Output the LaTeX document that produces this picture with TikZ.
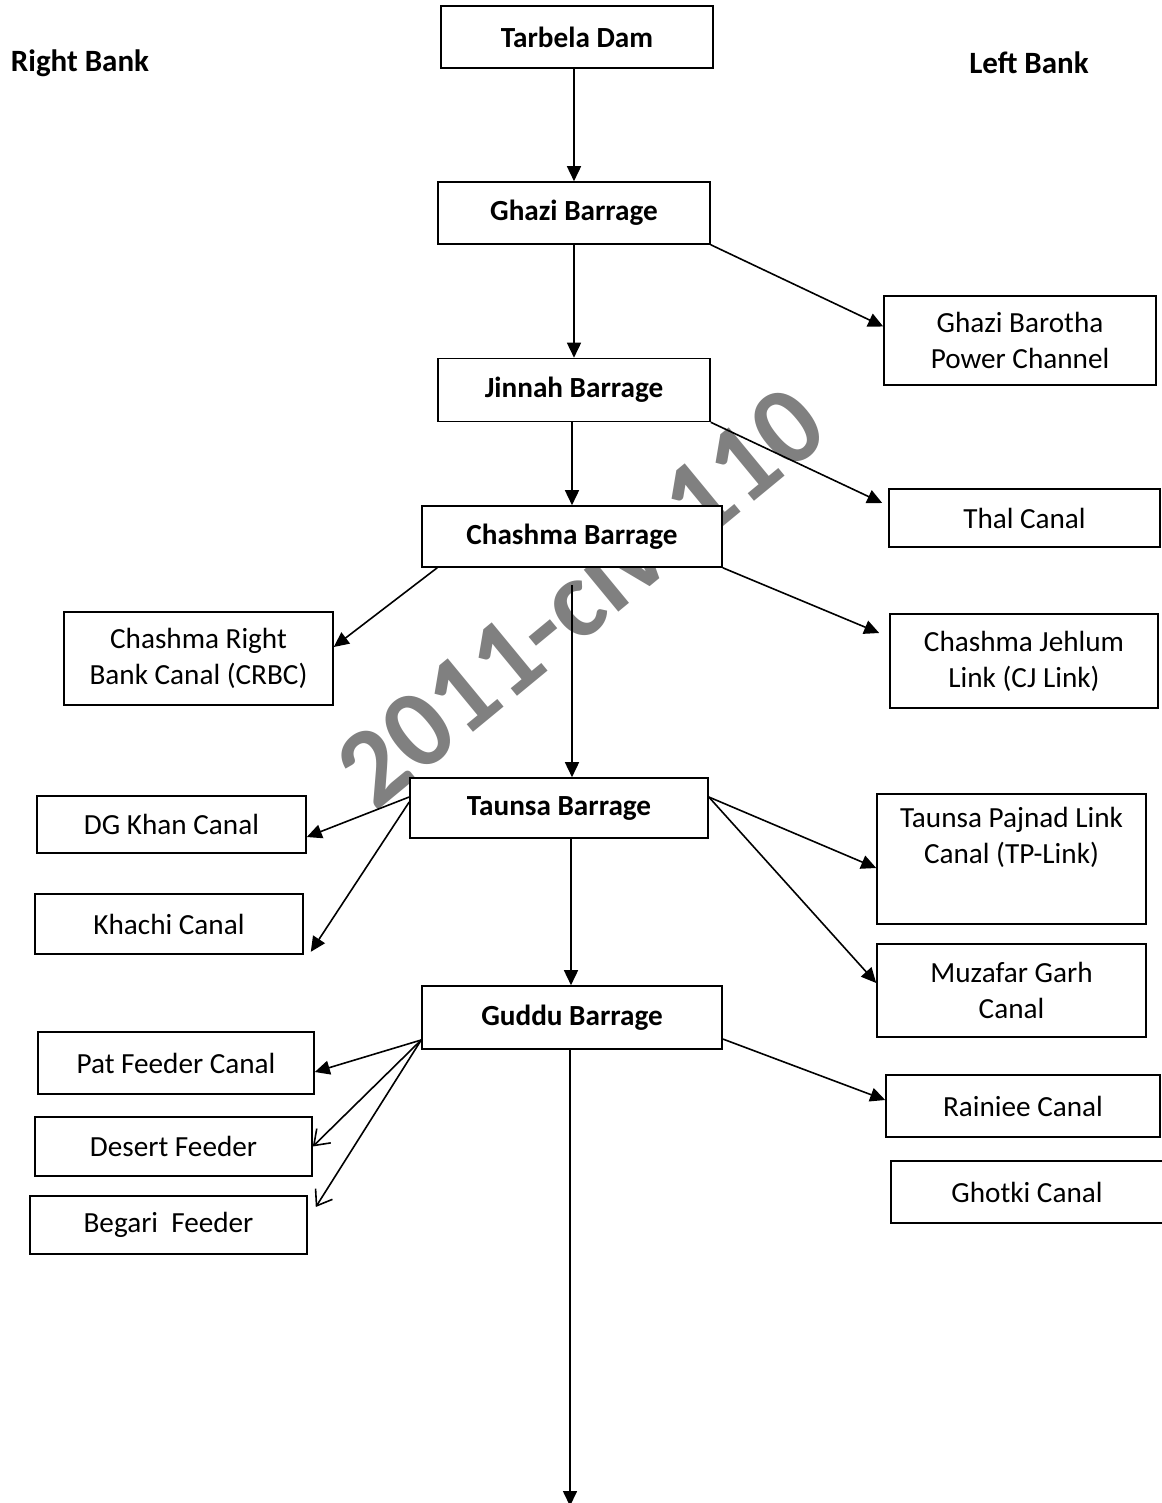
\documentclass[tikz,border=0pt]{standalone}
\usepackage{fontspec}
\setmainfont{Carlito}
\usetikzlibrary{arrows.meta,calc}
\begin{document}
\begin{tikzpicture}[x=0.5pt,y=-0.5pt,
  box/.style={draw,line width=0.8pt,fill=white,inner sep=0pt,align=center,
    font=\fontsize{14.6}{18}\selectfont},
  main/.style={box,font=\fontsize{14.6}{18}\selectfont\bfseries},
  flow/.style={line width=0.8pt,-{Triangle[length=7.5pt,width=7pt]}},
  barb/.style={line width=0.8pt,-{Straight Barb[length=7pt,width=10pt]}},
  bank/.style={font=\fontsize{15.5}{18}\selectfont\bfseries},
]
\useasboundingbox (0,0) rectangle (1161,1503);
\fill[white] (0,0) rectangle (1161,1503);

% watermark, laid under the boxes
\node[text=black!50, rotate=39.5, font=\fontsize{56}{56}\selectfont\bfseries] (wm) at (579,595) {2011-civ-110};

% bank headings
\node[bank] (rbank) at (80,63) {Right Bank};
\node[bank] (lbank) at (1029,63) {Left Bank};

% main river structures
\node[main, minimum width=136pt, minimum height=31pt] (tarbela) at (577,37) {Tarbela Dam};
\node[main, minimum width=136pt, minimum height=31pt] (ghazi) at (574,213) {Ghazi Barrage};
\node[main, minimum width=136pt, minimum height=31.5pt] (jinnah) at (574,390) {Jinnah Barrage};
\node[main, minimum width=150pt, minimum height=30.5pt] (chashma) at (572,536.5) {Chashma Barrage};
\node[main, minimum width=149pt, minimum height=30pt] (taunsa) at (559,808) {Taunsa Barrage};
\node[main, minimum width=150pt, minimum height=31.5pt] (guddu) at (572,1017.5) {Guddu Barrage};

% left bank canals
\node[box, minimum width=136pt, minimum height=44.5pt] (gbpc) at (1020,340.5) {Ghazi Barotha\\Power Channel};
\node[box, minimum width=135.5pt, minimum height=29pt] (thal) at (1024.5,518) {Thal Canal};
\node[box, minimum width=134pt, minimum height=47pt] (cj) at (1024,661) {Chashma Jehlum\\Link (CJ Link)};
\node[box, minimum width=134.5pt, minimum height=65pt] (tp) at (1011.5,859) {Taunsa Pajnad Link\\Canal (TP-Link)\\\strut};
\node[box, minimum width=134.5pt, minimum height=46.5pt] (muz) at (1011.5,990.5) {Muzafar Garh\\Canal};
\node[box, minimum width=137pt, minimum height=31pt] (rainiee) at (1023,1106) {Rainiee Canal};
\node[box, minimum width=136pt, minimum height=31pt] (ghotki) at (1027,1192) {Ghotki Canal};

% right bank canals
\node[box, minimum width=134.5pt, minimum height=46.5pt] (crbc) at (198.5,658.5) {Chashma Right\\Bank Canal (CRBC)};
\node[box, minimum width=134.5pt, minimum height=28.5pt] (dgkhan) at (171.5,824.5) {DG Khan Canal};
\node[box, minimum width=134pt, minimum height=30pt] (khachi) at (169,924) {Khachi Canal};
\node[box, minimum width=138pt, minimum height=31pt] (pat) at (176,1063) {Pat Feeder Canal};
\node[box, minimum width=138.5pt, minimum height=29.5pt] (desert) at (173.5,1146.5) {Desert Feeder};
\node[box, minimum width=138.5pt, minimum height=29pt] (begari) at (168.5,1225) {Begari~ Feeder};

% free ends of the main stem
\coordinate (chstem) at (572,585);
\coordinate (downstream) at (570,1506);

% main stem
\draw[flow] (ghazi.north |- tarbela.south) -- (ghazi.north);
\draw[flow] (ghazi.south) -- (jinnah.north);
\draw[flow] (chashma.north |- jinnah.south) -- (chashma.north);
\draw[flow] (chstem) -- (chstem |- taunsa.north);
\draw[flow] ([xshift=-0.5pt]guddu.north |- taunsa.south) -- ([xshift=-0.5pt]guddu.north);
\draw[flow] ([xshift=-1pt]guddu.south) -- (downstream);

% off-takes to the left bank
\draw[flow] (ghazi.south east) -- ([yshift=7pt]gbpc.west);
\draw[flow] (jinnah.south east) -- ([xshift=-3pt,yshift=7.5pt]thal.west);
\draw[flow] (chashma.south east) -- ([xshift=-5pt,yshift=14pt]cj.west);
\draw[flow] ([yshift=5.5pt]taunsa.east) -- ([yshift=-4.5pt]tp.west);
\draw[flow] ([yshift=5.5pt]taunsa.east) -- ([yshift=3.75pt]muz.west);
\draw[flow] ([yshift=-10.75pt]guddu.east) -- ([yshift=3pt]rainiee.west);

% off-takes to the right bank
\draw[flow] ([xshift=8pt]chashma.south west) -- ([yshift=5.75pt]crbc.east);
\draw[flow] ([yshift=5.5pt]taunsa.west) -- ([yshift=-6.25pt]dgkhan.east);
\draw[flow] ([yshift=3pt]taunsa.west) -- ([xshift=3.5pt,yshift=1.5pt]khachi.south east);
\draw[flow] ([yshift=-11.25pt]guddu.west) -- ([yshift=-4.5pt]pat.east);
\draw[barb] ([yshift=-11.25pt]guddu.west) -- (desert.east);
\draw[barb] ([yshift=-11.25pt]guddu.west) -- ([xshift=4pt,yshift=9pt]begari.east);
\end{tikzpicture}
\end{document}
